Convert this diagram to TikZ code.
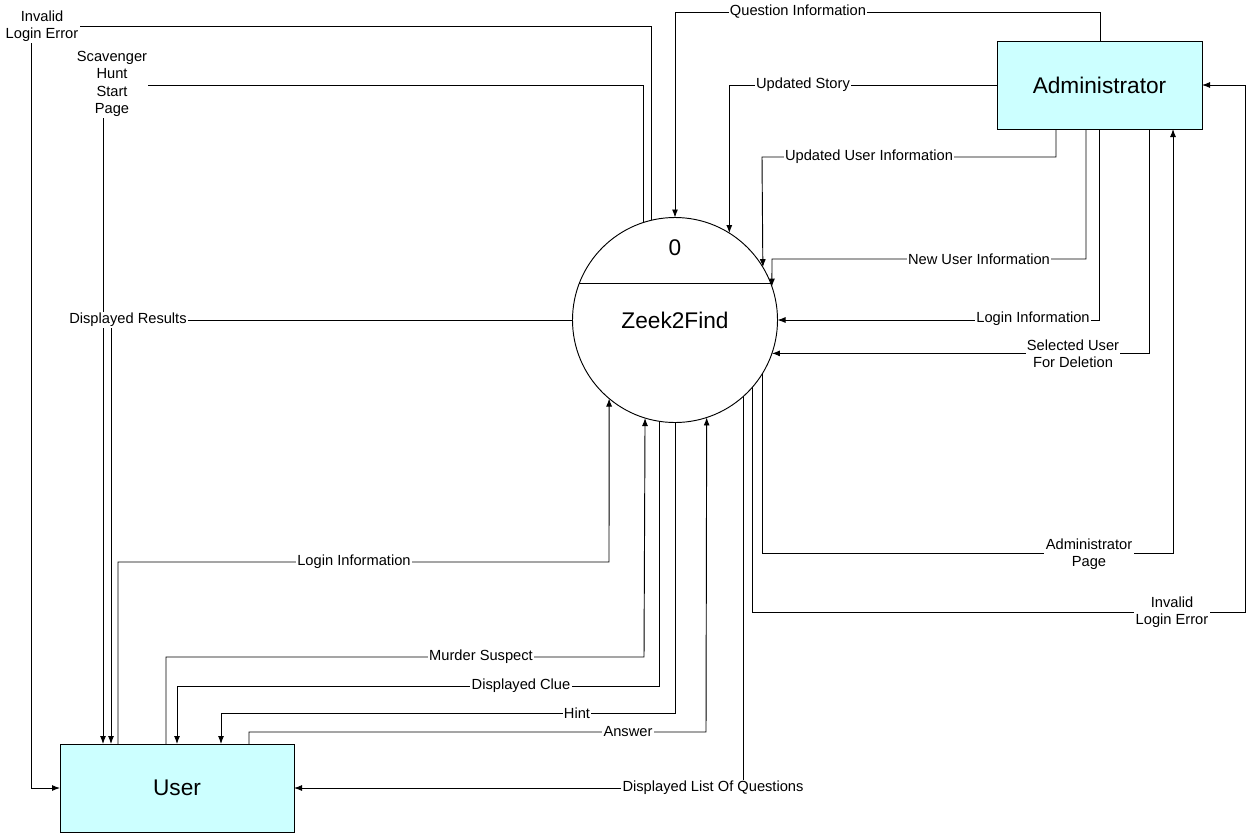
\documentclass[tikz,border=0pt]{standalone}
\usepackage{fontspec}
\setmainfont{Liberation Sans}
\usetikzlibrary{arrows.meta}
\definecolor{boxcyan}{HTML}{CCFFFF}
\begin{document}
\begin{tikzpicture}[x=0.75pt,y=-0.75pt,>={Latex[length=6pt,width=4.5pt]},
	flow/.style={->,line width=0.7pt},
	lbl/.style={fill=white,inner sep=1pt,align=center,font=\fontsize{11}{13}\selectfont},
	entity/.style={draw,line width=0.7pt,fill=boxcyan,outer sep=0pt,minimum height=66pt,font=\fontsize{17}{20}\selectfont}]
			\useasboundingbox (0,0) rectangle (1249,836);
			\node[entity,minimum width=153.75pt] (admin) at (1099.5,85) {Administrator};
			\node[entity,minimum width=175.5pt] (user) at (177,788) {User};
			\node[draw,circle,line width=0.7pt,minimum size=153.75pt,inner sep=0pt,outer sep=0pt,font=\fontsize{17}{20}\selectfont] (zeek) at (675,320) {Zeek2Find};
			\draw[line width=0.7pt] (zeek.159.4) -- (zeek.159.4 -| zeek.20.6);
			\node[font=\fontsize{17}{20}\selectfont] (num) at (675,248) {0};
			\draw[flow] (zeek.103) |- (31,26) |- (user.west);
			\draw[flow] (zeek.108.2) |- (103,85) -- (user.north -| 103,0);
			\draw[flow] (zeek.west) -| (user.north -| 111,0);
			\draw[flow] (user.north -| 118,0) |- (609,562) -- (zeek.-130.1);
			\draw[flow] (user.north -| 166,0) |- (644,657) -- (zeek.-107.6);
			\draw[flow] (zeek.-99.5) |- (177,686) -- (user.north -| 177,0);
			\draw[flow] (zeek.south) |- (221,713) -- (user.north -| 221,0);
			\draw[flow] (user.north -| 249,0) |- (706,732) -- (zeek.-72.4);
			\draw[flow] (zeek.-48.4) |- (user.east);
			\draw[flow] (zeek.-41.3) |- (1245,612) |- (admin.east);
			\draw[flow] (zeek.-31.9) |- (1173,553) -- (admin.south -| 1173,0);
			\draw[flow] (admin.north -| 1100,0) |- (675,12) -- (zeek.north);
			\draw[flow] (admin.west) -| (zeek.58.9);
			\draw[flow] (admin.south -| 1056,0) |- (762,157) -- (zeek.31.9);
			\draw[flow] (admin.south -| 1086,0) |- (772,259) -- (zeek.19);
			\draw[flow] (admin.south -| 1099,0) |- (zeek.east);
			\draw[flow] (admin.south -| 1149,0) |- (zeek.-19.4);
			\node[lbl] (l1) at (42,26) {Invalid\\Login Error};
			\node[lbl] (l2) at (112,84) {Scavenger\\Hunt\\Start\\Page};
			\node[lbl] (l3) at (128,320) {Displayed Results};
			\node[lbl] (l4) at (354,562) {Login Information};
			\node[lbl] (l5) at (481,657) {Murder Suspect};
			\node[lbl] (l6) at (521,686) {Displayed Clue};
			\node[lbl] (l7) at (577,713) {Hint};
			\node[lbl] (l8) at (628,732) {Answer};
			\node[lbl] (l9) at (713,788) {Displayed List Of Questions};
			\node[lbl] (l10) at (1172,612) {Invalid\\Login Error};
			\node[lbl] (l11) at (1089,554) {Administrator\\Page};
			\node[lbl] (l12) at (798,12) {Question Information};
			\node[lbl] (l13) at (803,85) {Updated Story};
			\node[lbl] (l14) at (869,157) {Updated User Information};
			\node[lbl] (l15) at (979,259) {New User Information};
			\node[lbl] (l16) at (1033,319) {Login Information};
			\node[lbl] (l17) at (1073,354) {Selected User\\For Deletion};
	\end{tikzpicture}
\end{document}
